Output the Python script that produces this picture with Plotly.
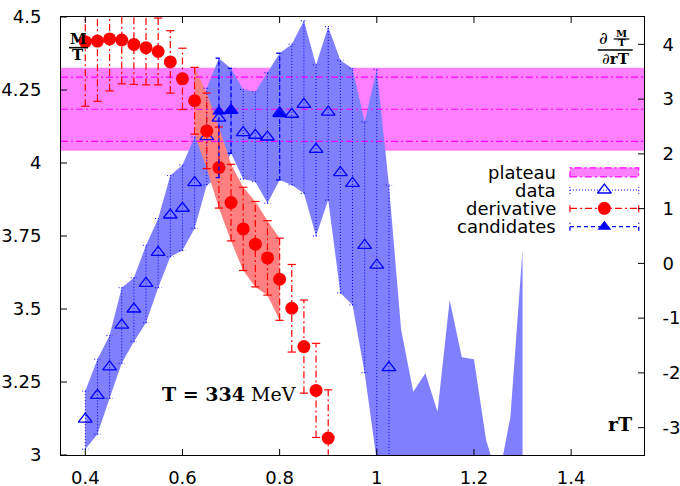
import plotly.graph_objects as go

# ---------------- data ----------------
x_range = [0.35, 1.55]
y_range = [3.0, 4.5]
y2_range = [-3.5, 4.5]

x_tickvals = [0.4, 0.6, 0.8, 1.0, 1.2, 1.4]
x_ticktext = ["0.4", "0.6", "0.8", "1", "1.2", "1.4"]
y_tickvals = [3.0, 3.25, 3.5, 3.75, 4.0, 4.25, 4.5]
y_ticktext = ["3", "3.25", "3.5", "3.75", "4", "4.25", "4.5"]
y2_tickvals = [-3, -2, -1, 0, 1, 2, 3, 4]
y2_ticktext = ["-3", "-2", "-1", "0", "1", "2", "3", "4"]

# plateau (left axis)
plateau_value = 4.184
plateau_err = 0.110
plateau_band = 0.142

# data points M/T (left axis)
data_x = [0.4, 0.425, 0.45, 0.475, 0.5, 0.525, 0.55, 0.575, 0.6, 0.625, 0.65,
          0.675, 0.7, 0.725, 0.75, 0.775, 0.8, 0.825, 0.85, 0.875, 0.9, 0.925,
          0.95, 0.975, 1.0, 1.025]
data_y = [3.123, 3.204, 3.302, 3.445, 3.500, 3.588, 3.694, 3.822, 3.845, 3.933,
          4.090, 4.154, 4.180, 4.104, 4.095, 4.089, 4.171, 4.167, 4.201, 4.047,
          4.174, 3.967, 3.930, 3.718, 3.650, 3.299]

# error band of the data (left axis)
band_x = [0.4, 0.425, 0.45, 0.475, 0.5, 0.525, 0.55, 0.575, 0.6, 0.625, 0.65,
          0.675, 0.7, 0.725, 0.75, 0.775, 0.8, 0.825, 0.85, 0.875, 0.9, 0.925,
          0.95, 0.975, 1.0, 1.025, 1.05, 1.075, 1.1, 1.125, 1.15, 1.175, 1.2,
          1.225, 1.25, 1.275, 1.3]
band_hi = [3.219, 3.328, 3.409, 3.573, 3.607, 3.718, 3.810, 3.957, 3.993, 4.089,
           4.256, 4.359, 4.324, 4.252, 4.244, 4.309, 4.376, 4.407, 4.487, 4.336,
           4.467, 4.352, 4.324, 4.141, 4.321, 3.924, 3.431, 3.217, 3.280, 3.148,
           3.531, 3.335, 3.328, 3.051, 2.914, 3.130, 3.702]
band_lo = [3.020, 3.071, 3.194, 3.314, 3.388, 3.453, 3.573, 3.679, 3.700, 3.776,
           3.925, 3.950, 4.033, 3.945, 3.936, 3.862, 3.942, 3.925, 3.896, 3.750,
           3.873, 3.555, 3.514, 3.282, 2.979, 2.675, 2.600, 2.550, 2.600, 2.500,
           2.700, 2.600, 2.600, 2.400, 2.300, 2.500, 2.800]

# derivative (right axis)
deriv_x = [0.4, 0.425, 0.45, 0.475, 0.5, 0.525, 0.55, 0.575, 0.6, 0.625, 0.65,
           0.675, 0.7, 0.725, 0.75, 0.775, 0.8, 0.825, 0.85, 0.875, 0.9]
deriv_y = [4.05, 4.06, 4.10, 4.08, 4.00, 3.94, 3.87, 3.68, 3.37, 2.97, 2.42,
           1.75, 1.11, 0.63, 0.35, 0.10, -0.29, -0.82, -1.52, -2.32, -3.19]
deriv_err = [1.18, 1.10, 0.95, 0.80, 0.73, 0.68, 0.61, 0.57, 0.56, 0.61, 0.69,
             0.74, 0.70, 0.76, 0.78, 0.68, 0.75, 0.80, 0.85, 0.86, 0.88]
fit_window = [0.625, 0.8]

# candidates (left axis)
cand_x = [0.675, 0.7, 0.8]
cand_y = [4.176, 4.180, 4.167]
cand_hi = [4.359, 4.324, 4.376]
cand_lo = [3.950, 4.033, 3.942]

# ---------------- styles ----------------
BLUE = "#0000FF"
BLUE_FILL = "#8080FF"
RED = "#FF0000"
RED_FILL = "#FF8080"
MAG = "#FF00FF"
MAG_FILL = "#FF80FF"
SANS = "DejaVu Sans"
SERIF = "DejaVu Serif"
TICKLEN = 6


def segments(xs, lo, hi):
    sx, sy = [], []
    for x, a, b in zip(xs, lo, hi):
        sx += [x, x, None]
        sy += [a, b, None]
    return sx, sy


def caps(xs, lo, hi, w):
    sx, sy = [], []
    for x, a, b in zip(xs, lo, hi):
        sx += [x - w, x + w, None, x - w, x + w, None]
        sy += [a, a, None, b, b, None]
    return sx, sy


fig = go.Figure()

# blue data band (y)
fig.add_trace(go.Scatter(x=band_x + band_x[::-1], y=band_hi + band_lo[::-1],
                         fill="toself", fillcolor=BLUE_FILL, mode="lines",
                         line=dict(width=0), hoverinfo="skip", showlegend=False,
                         yaxis="y"))

# red derivative band (y2)
fw = [i for i, x in enumerate(deriv_x) if fit_window[0] <= x <= fit_window[1]]
fx = [deriv_x[i] for i in fw]
fhi = [deriv_y[i] + deriv_err[i] for i in fw]
flo = [deriv_y[i] - deriv_err[i] for i in fw]
fig.add_trace(go.Scatter(x=fx + fx[::-1], y=fhi + flo[::-1], fill="toself",
                         fillcolor=RED_FILL, mode="lines", line=dict(width=0),
                         hoverinfo="skip", showlegend=False, yaxis="y2"))

# plateau lines (y3)
for v in [plateau_value + plateau_err, plateau_value, plateau_value - plateau_err]:
    fig.add_trace(go.Scatter(x=x_range, y=[v, v], mode="lines",
                             line=dict(color=MAG, width=1.2, dash="7px,3px,2px,3px"),
                             hoverinfo="skip", showlegend=False, yaxis="y3"))

# data error bars + triangles (y3)
vis = [i for i, y in enumerate(data_y) if y_range[0] <= y <= y_range[1]]
dx = [data_x[i] for i in vis]
dy = [data_y[i] for i in vis]
bi = {x: k for k, x in enumerate(band_x)}
dhi = [band_hi[bi[x]] for x in dx]
dlo = [band_lo[bi[x]] for x in dx]
sx, sy = segments(dx, dlo, dhi)
cx, cy = caps(dx, dlo, dhi, 0.0065)
fig.add_trace(go.Scatter(x=sx + cx, y=sy + cy, mode="lines",
                         line=dict(color=BLUE, width=1, dash="1px,2px"),
                         hoverinfo="skip", showlegend=False, yaxis="y3"))
fig.add_trace(go.Scatter(x=dx, y=dy, mode="markers",
                         marker=dict(symbol="triangle-up-open", size=12,
                                     color=BLUE, line=dict(width=1.3, color=BLUE)),
                         showlegend=False, yaxis="y3"))

# derivative error bars + dots (y4)
rlo = [y - e for y, e in zip(deriv_y, deriv_err)]
rhi = [y + e for y, e in zip(deriv_y, deriv_err)]
sx, sy = segments(deriv_x, rlo, rhi)
fig.add_trace(go.Scatter(x=sx, y=sy, mode="lines",
                         line=dict(color=RED, width=1.2, dash="7px,3px,2px,3px"),
                         hoverinfo="skip", showlegend=False, yaxis="y4"))
cx, cy = caps(deriv_x, rlo, rhi, 0.0085)
fig.add_trace(go.Scatter(x=cx, y=cy, mode="lines",
                         line=dict(color=RED, width=1.2),
                         hoverinfo="skip", showlegend=False, yaxis="y4"))
fig.add_trace(go.Scatter(x=deriv_x, y=deriv_y, mode="markers",
                         marker=dict(symbol="circle", size=13, color=RED),
                         showlegend=False, yaxis="y4"))

# candidates (y5)
sx, sy = segments(cand_x, cand_lo, cand_hi)
cx, cy = caps(cand_x, cand_lo, cand_hi, 0.0065)
fig.add_trace(go.Scatter(x=sx + cx, y=sy + cy, mode="lines",
                         line=dict(color=BLUE, width=1.3, dash="4px,3px"),
                         hoverinfo="skip", showlegend=False, yaxis="y5"))
fig.add_trace(go.Scatter(x=cand_x, y=cand_y, mode="markers",
                         marker=dict(symbol="triangle-up", size=12, color=BLUE),
                         showlegend=False, yaxis="y5"))

# ---------------- custom legend (aux axes, 0..1 over plot area) ----------------
legend_labels = ["plateau", "data", "derivative", "candidates"]
leg_rows = [0.6454, 0.605, 0.5632, 0.5212]
leg_x0, leg_x1, leg_xm, leg_text_x = 0.873, 0.991, 0.932, 0.852
cap_h = 0.009

def leg_line(row, color, dash, width, marker):
    y = leg_rows[row]
    fig.add_trace(go.Scatter(x=[leg_x0, leg_x1, None, leg_x0, leg_x0, None, leg_x1, leg_x1],
                             y=[y, y, None, y - cap_h, y + cap_h, None, y - cap_h, y + cap_h],
                             mode="lines", line=dict(color=color, width=width, dash=dash),
                             xaxis="x2", yaxis="y6", hoverinfo="skip", showlegend=False))
    fig.add_trace(go.Scatter(x=[leg_xm], y=[y], mode="markers", marker=marker,
                             xaxis="x2", yaxis="y6", hoverinfo="skip", showlegend=False))

leg_line(1, BLUE, "1px,2px", 1, dict(symbol="triangle-up-open", size=12, color=BLUE,
                                     line=dict(width=1.3, color=BLUE)))
leg_line(2, RED, "7px,3px,2px,3px", 1.2, dict(symbol="circle", size=13, color=RED))
leg_line(3, BLUE, "4px,3px", 1.3, dict(symbol="triangle-up", size=12, color=BLUE))

shapes = [
    dict(type="rect", xref="x domain", yref="y", x0=0, x1=1,
         y0=plateau_value - plateau_band, y1=plateau_value + plateau_band,
         fillcolor=MAG_FILL, line=dict(width=0), layer="below"),
    dict(type="rect", xref="paper", yref="paper", x0=leg_x0, x1=leg_x1,
         y0=leg_rows[0] - 0.0103, y1=leg_rows[0] + 0.0103,
         fillcolor=MAG_FILL, line=dict(color=MAG, width=1.2, dash="7px,3px,2px,3px")),
    # fraction bars
    dict(type="line", xref="paper", yref="paper", x0=0.0137, x1=0.0463, y0=0.930, y1=0.930,
         line=dict(color="black", width=1.6)),
    dict(type="line", xref="paper", yref="paper", x0=0.948, x1=0.9748, y0=0.9498, y1=0.9498,
         line=dict(color="black", width=1.2)),
    dict(type="line", xref="paper", yref="paper", x0=0.9206, x1=0.9806, y0=0.9247, y1=0.9247,
         line=dict(color="black", width=1.6)),
]

# inward tick marks (bottom/top for x, left for y, right for y2)
tick_line = dict(color="black", width=1)
for tv in x_tickvals:
    for anchor, d in [(0, TICKLEN), (1, -TICKLEN)]:
        shapes.append(dict(type="line", xref="x", yref="y domain", x0=tv, x1=tv,
                           ysizemode="pixel", yanchor=anchor, y0=0, y1=d, line=tick_line))
for tv in y_tickvals:
    shapes.append(dict(type="line", xref="x domain", yref="y", y0=tv, y1=tv,
                       xsizemode="pixel", xanchor=0, x0=0, x1=TICKLEN, line=tick_line))
for tv in y2_tickvals:
    shapes.append(dict(type="line", xref="x domain", yref="y2", y0=tv, y1=tv,
                       xsizemode="pixel", xanchor=1, x0=0, x1=-TICKLEN, line=tick_line))

annotations = []
for lab, yy in zip(legend_labels, leg_rows):
    annotations.append(dict(text=lab, xref="paper", yref="paper", x=leg_text_x, y=yy,
                            xanchor="right", yanchor="middle", showarrow=False,
                            font=dict(family=SANS, size=18, color="black")))

def ann(text, x, y, size, xanchor="center"):
    annotations.append(dict(text=text, xref="paper", yref="paper", x=x, y=y,
                            xanchor=xanchor, yanchor="middle", showarrow=False,
                            font=dict(family=SERIF, size=size, color="black")))

ann("<b>M</b>", 0.0292, 0.9498, 15)
ann("<b>T</b>", 0.0292, 0.9132, 15)
ann("∂", 0.9305, 0.9525, 17)
ann("<b>M</b>", 0.9619, 0.9628, 10)
ann("<b>T</b>", 0.9619, 0.9411, 10)
ann("∂<b>rT</b>", 0.9515, 0.9037, 15)
ann("<b>T = 334</b> MeV", 0.1698, 0.140, 19, xanchor="left")
ann("<b>rT</b>", 0.983, 0.070, 19, xanchor="right")

axis_font = dict(family=SANS, size=18, color="black")

fig.update_layout(
    width=680, height=486,
    margin=dict(l=61, r=36, t=17, b=31, autoexpand=False),
    paper_bgcolor="white", plot_bgcolor="rgba(0,0,0,0)",
    showlegend=False,
    shapes=shapes, annotations=annotations,
    xaxis=dict(range=x_range, tickvals=x_tickvals, ticktext=x_ticktext,
               ticks="", showline=True, mirror=True,
               linecolor="black", linewidth=1, showgrid=False,
               zeroline=False, tickfont=axis_font, ticklabelstandoff=6,
               automargin=False),
    yaxis=dict(range=y_range, tickvals=y_tickvals, ticktext=y_ticktext,
               ticks="", showline=True,
               linecolor="black", linewidth=1, showgrid=False, zeroline=False,
               tickfont=axis_font, ticklabelstandoff=15, automargin=False),
    yaxis2=dict(range=y2_range, tickvals=y2_tickvals, ticktext=y2_ticktext,
                overlaying="y", side="right", ticks="",
                showline=True, linecolor="black", linewidth=1,
                showgrid=False, zeroline=False, tickfont=axis_font,
                ticklabelstandoff=14, automargin=False),
    yaxis3=dict(range=y_range, overlaying="y", visible=False),
    yaxis4=dict(range=y2_range, overlaying="y", visible=False),
    yaxis5=dict(range=y_range, overlaying="y", visible=False),
    xaxis2=dict(range=[0, 1], overlaying="x", anchor="y6", visible=False),
    yaxis6=dict(range=[0, 1], overlaying="y", anchor="x2", visible=False),
)

fig.write_html("out.html")
